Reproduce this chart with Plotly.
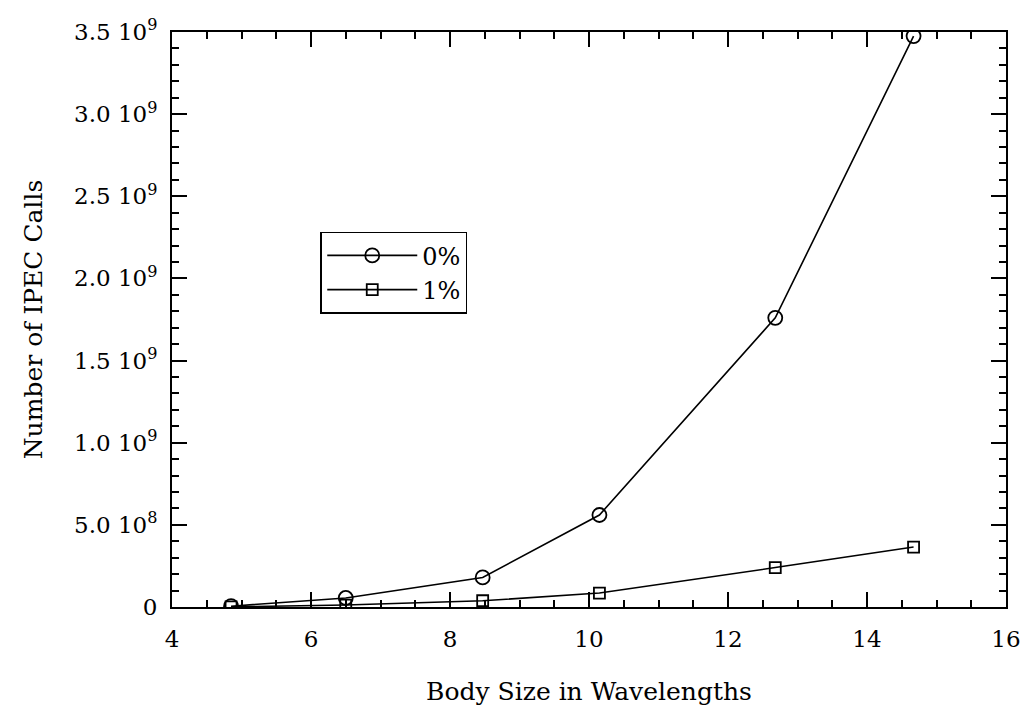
import plotly.graph_objects as go

body_size = [4.85, 6.5, 8.47, 10.15, 12.68, 14.67]
calls_0pct = [5e6, 5.5e7, 1.8e8, 5.6e8, 1.76e9, 3.475e9]
calls_1pct = [1e6, 1.2e7, 3.8e7, 8.5e7, 2.4e8, 3.65e8]

y_tickvals = [0, 5e8, 1e9, 1.5e9, 2e9, 2.5e9, 3e9, 3.5e9]
y_ticktext = ["0", "5.0 10<sup>8</sup>", "1.0 10<sup>9</sup>", "1.5 10<sup>9</sup>",
              "2.0 10<sup>9</sup>", "2.5 10<sup>9</sup>", "3.0 10<sup>9</sup>", "3.5 10<sup>9</sup>"]
x_tickvals = [4, 6, 8, 10, 12, 14, 16]

FONT = "DejaVu Serif"

fig = go.Figure()
fig.add_trace(go.Scatter(
    x=body_size, y=calls_0pct, name="0%", mode="lines+markers",
    line=dict(color="black", width=1.6),
    marker=dict(symbol="circle-open", size=14, color="black", line=dict(width=1.8)),
))
fig.add_trace(go.Scatter(
    x=body_size, y=calls_1pct, name="1%", mode="lines+markers",
    line=dict(color="black", width=1.6),
    marker=dict(symbol="square-open", size=11, color="black", line=dict(width=1.8)),
))

axis_common = dict(
    showline=True, linecolor="black", linewidth=1.8, mirror="ticks",
    ticks="inside", ticklen=15, tickwidth=1.8, tickcolor="black",
    showgrid=False, zeroline=False,
    tickfont=dict(family=FONT, size=23, color="black"),
)

fig.update_xaxes(
    range=[4, 16], tickvals=x_tickvals, ticklabelstandoff=10,
    minor=dict(dtick=0.5, ticks="inside", ticklen=7, tickwidth=1.8, tickcolor="black"),
    title=dict(text="Body Size in Wavelengths", font=dict(family=FONT, size=25, color="black"), standoff=32),
    **axis_common,
)
fig.update_yaxes(
    range=[0, 3.5e9], tickvals=y_tickvals, ticktext=y_ticktext, ticklabelstandoff=8,
    minor=dict(dtick=1e8, ticks="inside", ticklen=7, tickwidth=1.8, tickcolor="black"),
    title=dict(text="Number of IPEC Calls", font=dict(family=FONT, size=25, color="black"), standoff=24),
    **axis_common,
)

fig.update_layout(
    width=1033, height=713,
    margin=dict(l=172, r=20, t=32, b=105),
    paper_bgcolor="white", plot_bgcolor="white",
    showlegend=True,
    legend=dict(
        x=0.178, y=0.653, xanchor="left", yanchor="top",
        bordercolor="black", borderwidth=1.8, bgcolor="white",
        font=dict(family=FONT, size=24, color="black"),
        itemwidth=90, tracegroupgap=0,
    ),
)

fig.write_html("out.html")
